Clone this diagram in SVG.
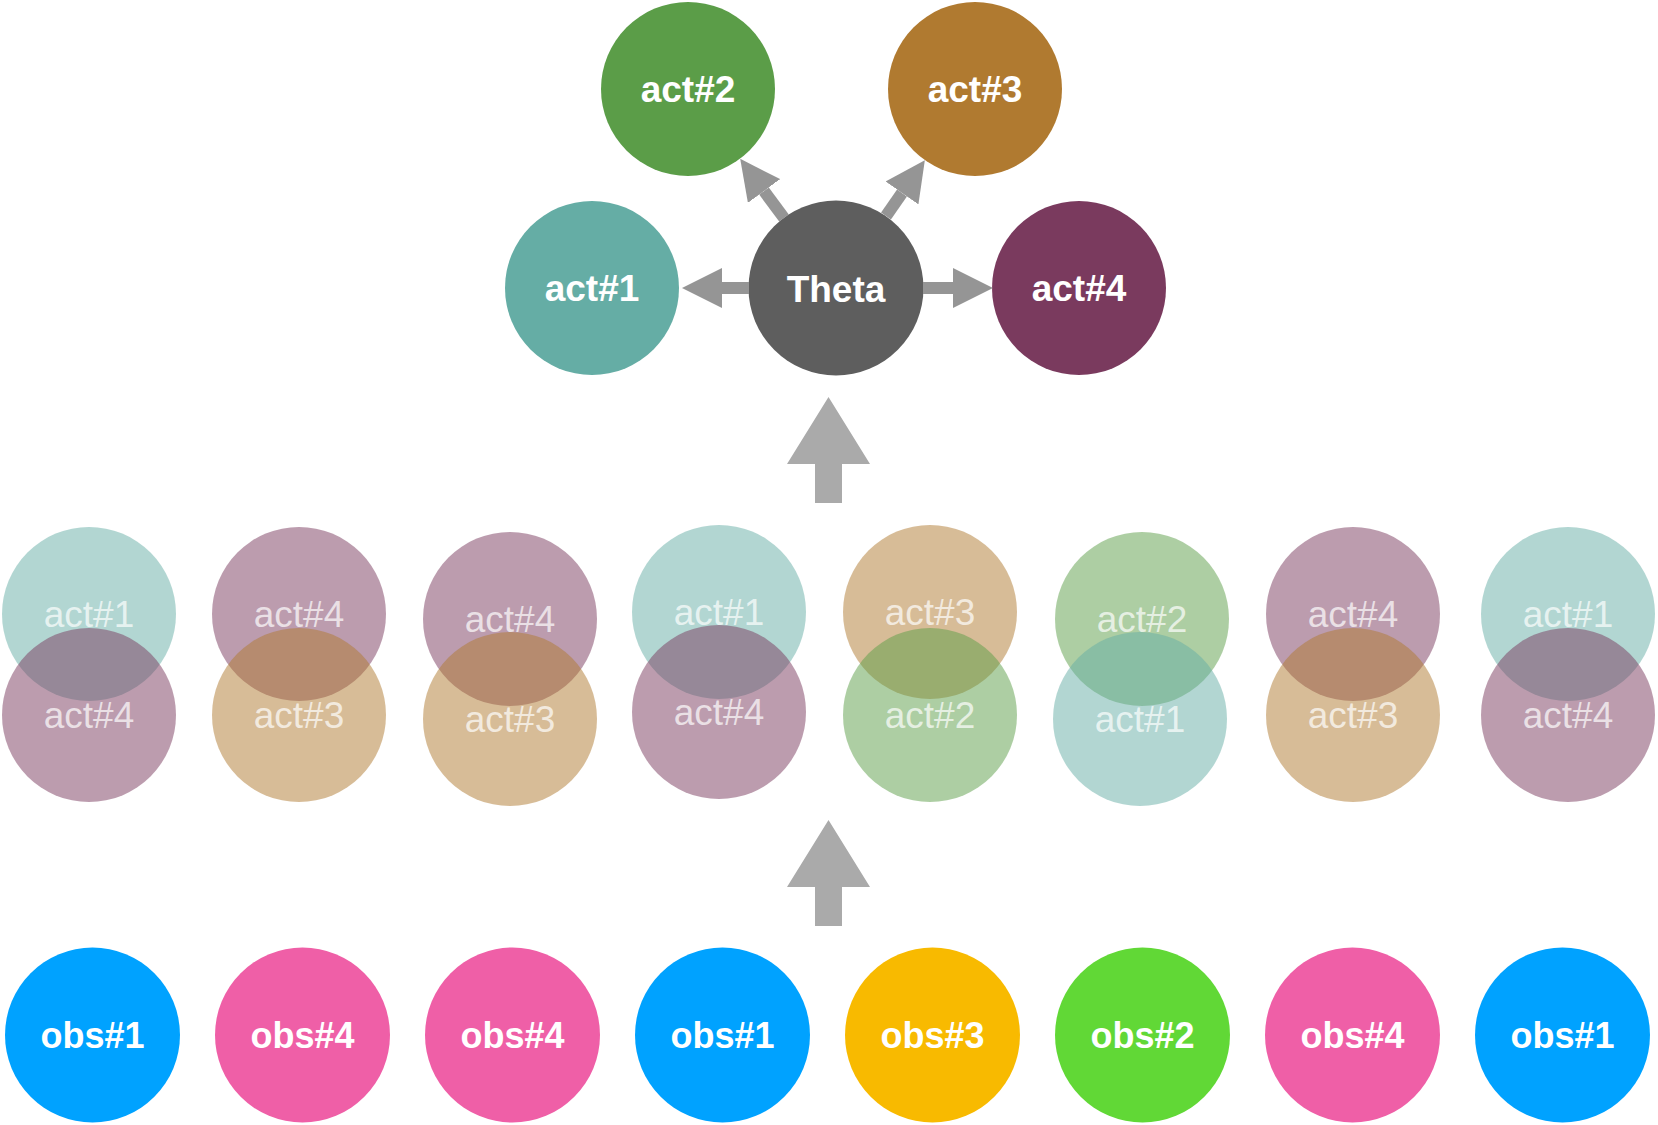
<svg xmlns="http://www.w3.org/2000/svg" width="1658" height="1125" viewBox="0 0 1658 1125">
<defs>
<style>
.lbl{font-family:"Liberation Sans",Arial,Helvetica,sans-serif;font-weight:bold;font-size:37px;fill:#ffffff;text-anchor:middle}
.obs{font-family:"Liberation Sans",Arial,Helvetica,sans-serif;font-weight:bold;font-size:36px;fill:#ffffff;text-anchor:middle}
.mid{font-family:"Liberation Sans",Arial,Helvetica,sans-serif;font-size:37px;fill:#ffffff;fill-opacity:0.7;text-anchor:middle}
.a1{fill:#65ADA5}.a2{fill:#5B9D48}.a3{fill:#B07A30}.a4{fill:#7A3A5E}.th{fill:#5E5E5E}
.o1{fill:#00A2FF}.o2{fill:#61D836}.o3{fill:#F8BA00}.o4{fill:#EF5FA7}
.fade circle{fill-opacity:0.5}
.conn{stroke:#959595;stroke-width:12;fill:none;marker-end:url(#head)}
.big{fill:#AAAAAA}
</style>
<marker id="head" markerUnits="userSpaceOnUse" markerWidth="40" markerHeight="40" refX="0" refY="20" orient="auto" viewBox="0 0 40 40">
<path d="M0,0 L40,20 L0,40 z" fill="#959595"/>
</marker>
</defs>
<rect width="1658" height="1125" fill="#ffffff"/>

<g id="top-act2"><circle class="a2" cx="688" cy="89" r="87"/><text class="lbl" x="688" y="102">act#2</text></g>
<g id="top-act3"><circle class="a3" cx="975" cy="89" r="87"/><text class="lbl" x="975" y="102">act#3</text></g>
<g id="top-act1"><circle class="a1" cx="592" cy="288" r="87"/><text class="lbl" x="592" y="301">act#1</text></g>
<g id="theta"><circle class="th" cx="836" cy="288" r="87.5"/><text class="lbl" x="836" y="302">Theta</text></g>
<g id="top-act4"><circle class="a4" cx="1079" cy="288" r="87"/><text class="lbl" x="1079" y="301">act#4</text></g>

<g id="connectors">
<line class="conn" x1="749" y1="288" x2="722" y2="288"/>
<line class="conn" x1="923" y1="288" x2="953" y2="288"/>
<line class="conn" x1="784" y1="218" x2="764" y2="191"/>
<line class="conn" x1="886" y1="216" x2="902" y2="193"/>
<polygon id="up-arrow-1" class="big" points="828.5,397 870,464 842,464 842,503 815,503 815,464 787,464"/>
<polygon id="up-arrow-2" class="big" points="828.5,820 870,887 842,887 842,926 815,926 815,887 787,887"/>
</g>

<g id="mid1" class="fade">
<g id="mid1-up"><circle class="a1" cx="89" cy="614" r="87"/><text class="mid" x="89" y="627">act#1</text></g>
<g id="mid1-lo"><circle class="a4" cx="89" cy="715" r="87"/><text class="mid" x="89" y="728">act#4</text></g>
</g>
<g id="mid2" class="fade">
<g id="mid2-up"><circle class="a4" cx="299" cy="614" r="87"/><text class="mid" x="299" y="627">act#4</text></g>
<g id="mid2-lo"><circle class="a3" cx="299" cy="715" r="87"/><text class="mid" x="299" y="728">act#3</text></g>
</g>
<g id="mid3" class="fade">
<g id="mid3-up"><circle class="a4" cx="510" cy="619" r="87"/><text class="mid" x="510" y="632">act#4</text></g>
<g id="mid3-lo"><circle class="a3" cx="510" cy="719" r="87"/><text class="mid" x="510" y="732">act#3</text></g>
</g>
<g id="mid4" class="fade">
<g id="mid4-up"><circle class="a1" cx="719" cy="612" r="87"/><text class="mid" x="719" y="625">act#1</text></g>
<g id="mid4-lo"><circle class="a4" cx="719" cy="712" r="87"/><text class="mid" x="719" y="725">act#4</text></g>
</g>
<g id="mid5" class="fade">
<g id="mid5-up"><circle class="a3" cx="930" cy="612" r="87"/><text class="mid" x="930" y="625">act#3</text></g>
<g id="mid5-lo"><circle class="a2" cx="930" cy="715" r="87"/><text class="mid" x="930" y="728">act#2</text></g>
</g>
<g id="mid6" class="fade">
<g id="mid6-up"><circle class="a2" cx="1142" cy="619" r="87"/><text class="mid" x="1142" y="632">act#2</text></g>
<g id="mid6-lo"><circle class="a1" cx="1140" cy="719" r="87"/><text class="mid" x="1140" y="732">act#1</text></g>
</g>
<g id="mid7" class="fade">
<g id="mid7-up"><circle class="a4" cx="1353" cy="614" r="87"/><text class="mid" x="1353" y="627">act#4</text></g>
<g id="mid7-lo"><circle class="a3" cx="1353" cy="715" r="87"/><text class="mid" x="1353" y="728">act#3</text></g>
</g>
<g id="mid8" class="fade">
<g id="mid8-up"><circle class="a1" cx="1568" cy="614" r="87"/><text class="mid" x="1568" y="627">act#1</text></g>
<g id="mid8-lo"><circle class="a4" cx="1568" cy="715" r="87"/><text class="mid" x="1568" y="728">act#4</text></g>
</g>

<g id="obs1"><circle class="o1" cx="92.5" cy="1035" r="87.5"/><text class="obs" x="92.5" y="1048">obs#1</text></g>
<g id="obs2"><circle class="o4" cx="302.5" cy="1035" r="87.5"/><text class="obs" x="302.5" y="1048">obs#4</text></g>
<g id="obs3"><circle class="o4" cx="512.5" cy="1035" r="87.5"/><text class="obs" x="512.5" y="1048">obs#4</text></g>
<g id="obs4"><circle class="o1" cx="722.5" cy="1035" r="87.5"/><text class="obs" x="722.5" y="1048">obs#1</text></g>
<g id="obs5"><circle class="o3" cx="932.5" cy="1035" r="87.5"/><text class="obs" x="932.5" y="1048">obs#3</text></g>
<g id="obs6"><circle class="o2" cx="1142.5" cy="1035" r="87.5"/><text class="obs" x="1142.5" y="1048">obs#2</text></g>
<g id="obs7"><circle class="o4" cx="1352.5" cy="1035" r="87.5"/><text class="obs" x="1352.5" y="1048">obs#4</text></g>
<g id="obs8"><circle class="o1" cx="1562.5" cy="1035" r="87.5"/><text class="obs" x="1562.5" y="1048">obs#1</text></g>
</svg>
